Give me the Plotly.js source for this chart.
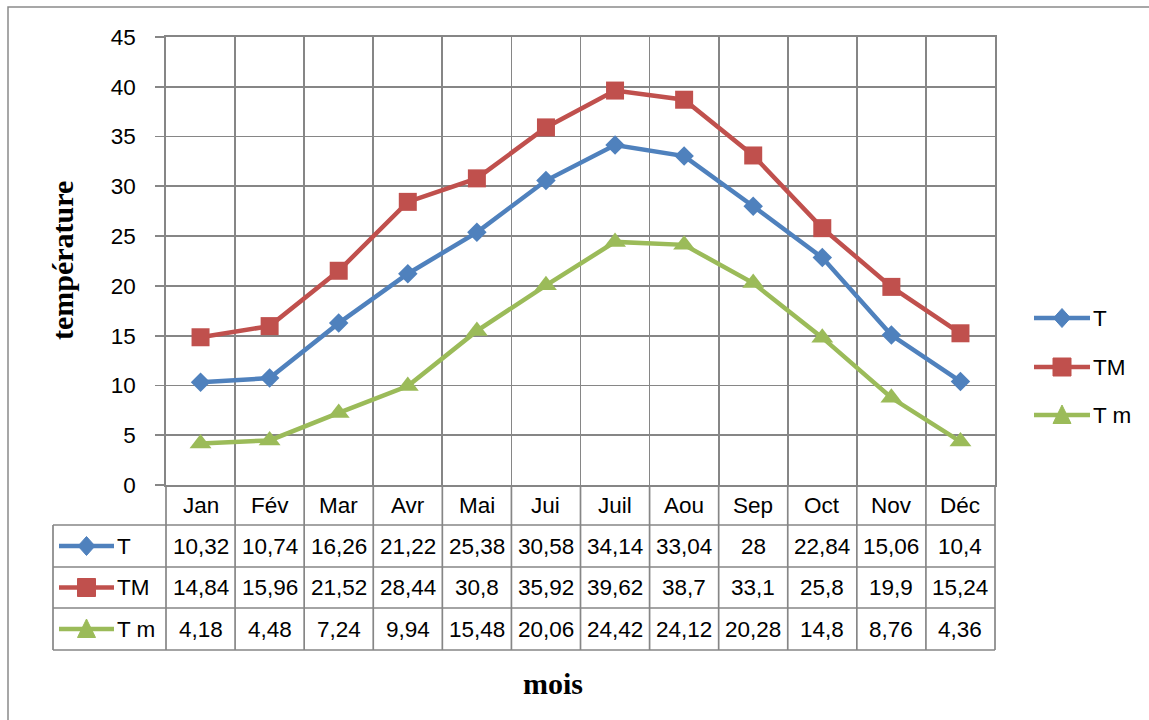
<!DOCTYPE html>
<html><head><meta charset="utf-8">
<script src="https://cdn.plot.ly/plotly-3.0.1.min.js"></script>
<style>body{margin:0;background:#fff}</style>
</head><body><div id="chart" style="width:1149px;height:720px"></div>
<script>
// ---- data ----
const months = ['Jan','Fév','Mar','Avr','Mai','Jui','Juil','Aou','Sep','Oct','Nov','Déc'];
const seriesNames = ['T','TM','T m'];
const T  = [10.32,10.74,16.26,21.22,25.38,30.58,34.14,33.04,28,22.84,15.06,10.4];
const TM = [14.84,15.96,21.52,28.44,30.8,35.92,39.62,38.7,33.1,25.8,19.9,15.24];
const Tm = [4.18,4.48,7.24,9.94,15.48,20.06,24.42,24.12,20.28,14.8,8.76,4.36];
const yTitle = 'température';
const xTitle = 'mois';

// ---- styles / geometry ----
const W = 1149, H = 720;
const L = 166, R = 995, TOP = 37, BOT = 485;
const colors = ['#4F81BD', '#C0504D', '#9BBB59'];
const symbols = ['diamond', 'square', 'triangle-up'];
const sizes = [15, 18, 19];
const grid = '#868686';
const numFont = 'Liberation Sans, Arial, sans-serif';
const titleFont = 'Liberation Serif, Times New Roman, serif';
const fs = 22.5;
const values = [T, TM, Tm];

const X = px => (px - L) / (R - L);
const Y = py => (BOT - py) / (BOT - TOP);
const n = months.length;
const colX = i => L + (R - L) * i / n;

const traces = values.map((v, k) => ({
  x: months, y: v, type: 'scatter', mode: 'lines+markers', name: seriesNames[k],
  line: {color: colors[k], width: 4.5},
  marker: {symbol: symbols[k], size: sizes[k], color: colors[k]},
  cliponaxis: false, showlegend: false, hoverinfo: 'skip'
}));

const shapes = [];
const annotations = [];
const line = (x0, y0, x1, y1, c, w) => shapes.push({type: 'line', xref: 'paper', yref: 'paper',
  x0: X(x0), y0: Y(y0), x1: X(x1), y1: Y(y1), line: {color: c, width: w}});

// outer frame
shapes.push({type: 'rect', xref: 'paper', yref: 'paper', x0: X(8), y0: Y(7), x1: X(1170), y1: Y(740),
  line: {color: '#8a8a8a', width: 1.5}, fillcolor: 'rgba(0,0,0,0)'});

// table
const rowsY = [485, 525, 567, 608, 650];
const tabLeft = 53;
for (let i = 0; i <= n; i++) line(colX(i), 485, colX(i), 650, grid, 1.7);
line(tabLeft, 525, tabLeft, 650, grid, 1.7);
for (let r = 1; r < rowsY.length; r++) line(tabLeft, rowsY[r], R, rowsY[r], grid, 1.7);

const fmt = v => String(v).replace('.', ',');
months.forEach((m, i) => annotations.push({xref: 'paper', yref: 'paper', x: X(colX(i + 0.5)), y: Y(505),
  text: m, showarrow: false, xanchor: 'center', yanchor: 'middle', font: {family: numFont, size: fs, color: '#000'}}));
values.forEach((v, k) => {
  const cy = (rowsY[k + 1] + rowsY[k + 2]) / 2;
  v.forEach((val, i) => annotations.push({xref: 'paper', yref: 'paper', x: X(colX(i + 0.5)), y: Y(cy),
    text: fmt(val), showarrow: false, xanchor: 'center', yanchor: 'middle', font: {family: numFont, size: fs, color: '#000'}}));
});

// legend keys
function markerPath(k, cx, cy) {
  let pts;
  if (k === 0) pts = [[cx, cy - 9.5], [cx + 8.5, cy], [cx, cy + 9.5], [cx - 8.5, cy]];
  else if (k === 1) pts = [[cx - 9, cy - 9], [cx + 9, cy - 9], [cx + 9, cy + 9], [cx - 9, cy + 9]];
  else pts = [[cx, cy - 10], [cx + 9, cy + 8.5], [cx - 9, cy + 8.5]];
  return 'M' + pts.map(p => X(p[0]) + ',' + Y(p[1])).join(' L') + ' Z';
}
function key(k, x0, x1, cy, labelX) {
  line(x0, cy, x1, cy, colors[k], 4.5);
  shapes.push({type: 'path', xref: 'paper', yref: 'paper', path: markerPath(k, (x0 + x1) / 2, cy),
    fillcolor: colors[k], line: {color: colors[k], width: 1}});
  annotations.push({xref: 'paper', yref: 'paper', x: X(labelX), y: Y(cy), text: seriesNames[k],
    showarrow: false, xanchor: 'left', yanchor: 'middle', font: {family: numFont, size: fs, color: '#000'}});
}
values.forEach((v, k) => {
  const cy = (rowsY[k + 1] + rowsY[k + 2]) / 2;
  key(k, 59, 114, cy, 115);
});
[318, 367, 415].forEach((cy, k) => key(k, 1034, 1090, cy, 1091));

// titles
annotations.push({xref: 'paper', yref: 'paper', x: X(62), y: Y(261), text: '<b>' + yTitle + '</b>', textangle: -90,
  showarrow: false, xanchor: 'center', yanchor: 'middle', font: {family: titleFont, size: 30, color: '#000'}});
annotations.push({xref: 'paper', yref: 'paper', x: X(553), y: Y(683), text: '<b>' + xTitle + '</b>',
  showarrow: false, xanchor: 'center', yanchor: 'middle', font: {family: titleFont, size: 30, color: '#000'}});

const layout = {
  width: W, height: H,
  margin: {l: L, r: W - R, t: TOP, b: H - BOT, pad: 0},
  paper_bgcolor: '#fff', plot_bgcolor: '#fff',
  showlegend: false,
  xaxis: {type: 'category', range: [-0.5, n - 0.5], showticklabels: false, ticks: '',
    tickson: 'boundaries', showgrid: true, gridcolor: grid, gridwidth: 1.7,
    showline: true, linecolor: grid, linewidth: 1.7, mirror: true, zeroline: false, fixedrange: true},
  yaxis: {range: [0, 45], dtick: 5, tick0: 0, showgrid: true, gridcolor: grid, gridwidth: 1.7,
    ticks: 'outside', ticklen: 9, tickcolor: grid, tickwidth: 1.7, ticklabelstandoff: 15,
    showline: true, linecolor: grid, linewidth: 1.7, mirror: true, zeroline: false,
    tickfont: {family: numFont, size: fs, color: '#000'}, fixedrange: true},
  shapes: shapes, annotations: annotations
};
Plotly.newPlot('chart', traces, layout, {displayModeBar: false, staticPlot: true});
</script></body></html>
